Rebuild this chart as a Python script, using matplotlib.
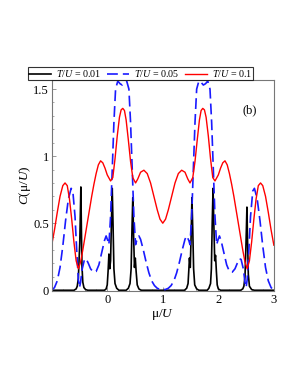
import matplotlib
matplotlib.use("Agg")
import matplotlib.pyplot as plt
from matplotlib.ticker import MultipleLocator, FixedLocator

plt.rcParams['font.family'] = ['Liberation Serif', 'DejaVu Serif']
plt.rcParams['mathtext.fontset'] = 'custom'
plt.rcParams['mathtext.rm'] = 'Liberation Serif'
plt.rcParams['mathtext.it'] = 'Liberation Serif:italic'

# T/U = 0.01 (black)
black_x = [-1.0, -0.6, -0.56, -0.54, -0.52, -0.505, -0.495, -0.485, -0.475, -0.465, -0.455, -0.44, -0.42, -0.39, -0.35,
           -0.05, -0.02, 0.0, 0.015, 0.03, 0.045, 0.06, 0.075, 0.09, 0.105, 0.12, 0.14, 0.17, 0.21,
           0.34, 0.38, 0.41, 0.43, 0.445, 0.46, 0.475, 0.49, 0.505, 0.52, 0.54, 0.57, 0.61,
           1.39, 1.43, 1.455, 1.47, 1.48, 1.495, 1.51, 1.525, 1.54, 1.555, 1.575, 1.61, 1.65,
           1.80, 1.83, 1.86, 1.875, 1.89, 1.905, 1.92, 1.935, 1.95, 1.965, 1.98, 2.0, 2.04,
           2.4, 2.44, 2.46, 2.48, 2.495, 2.505, 2.515, 2.525, 2.54, 2.56, 2.6, 2.65, 3.0]
black_y = [0.0, 0.0, 0.01, 0.03, 0.09, 0.25, 0.35, 0.55, 0.77, 0.45, 0.18, 0.06, 0.02, 0.005, 0.0,
           0.0, 0.01, 0.04, 0.14, 0.27, 0.16, 0.22, 0.50, 0.76, 0.48, 0.16, 0.05, 0.015, 0.0,
           0.0, 0.015, 0.05, 0.16, 0.45, 0.69, 0.40, 0.17, 0.24, 0.14, 0.04, 0.01, 0.0,
           0.0, 0.015, 0.05, 0.16, 0.24, 0.17, 0.40, 0.69, 0.45, 0.16, 0.04, 0.01, 0.0,
           0.0, 0.015, 0.05, 0.16, 0.50, 0.76, 0.48, 0.22, 0.26, 0.14, 0.04, 0.01, 0.0,
           0.0, 0.01, 0.03, 0.10, 0.30, 0.45, 0.62, 0.40, 0.12, 0.03, 0.005, 0.0, 0.0]

# T/U = 0.05 (blue dashed)
blue_x = [-1.0, -0.95, -0.9, -0.85, -0.8, -0.75, -0.7, -0.65, -0.62, -0.58, -0.55, -0.52, -0.50, -0.48, -0.45,
          -0.41, -0.38, -0.34, -0.3, -0.25, -0.2, -0.15, -0.1, -0.05, -0.02, 0.01, 0.03, 0.06, 0.09, 0.12,
          0.15, 0.19, 0.23, 0.27, 0.31, 0.35, 0.39, 0.42, 0.45, 0.48, 0.51, 0.53, 0.57, 0.6, 0.65, 0.7,
          0.75, 0.8, 0.85, 0.9, 0.95, 1.0, 1.05, 1.1, 1.15, 1.2, 1.25, 1.3, 1.35, 1.4, 1.43, 1.47, 1.49,
          1.52, 1.55, 1.58, 1.61, 1.65, 1.69, 1.73, 1.77, 1.81, 1.85, 1.88, 1.91, 1.94, 1.97, 1.99, 2.02,
          2.05, 2.1, 2.15, 2.2, 2.25, 2.3, 2.34, 2.38, 2.41, 2.45, 2.48, 2.50, 2.52, 2.55, 2.58, 2.62,
          2.65, 2.7, 2.75, 2.8, 2.85, 2.9, 2.95, 3.0]
blue_y = [0.0, 0.02, 0.07, 0.17, 0.33, 0.52, 0.68, 0.76, 0.74, 0.55, 0.30, 0.08, 0.02, 0.06, 0.16,
          0.23, 0.235, 0.20, 0.16, 0.135, 0.14, 0.19, 0.28, 0.37, 0.405, 0.37, 0.34, 0.55, 0.90, 1.25,
          1.50, 1.56, 1.54, 1.53, 1.55, 1.56, 1.50, 1.25, 0.90, 0.55, 0.34, 0.37, 0.405, 0.38, 0.30, 0.21,
          0.13, 0.07, 0.035, 0.015, 0.006, 0.004, 0.006, 0.015, 0.035, 0.07, 0.13, 0.21, 0.30, 0.38, 0.405,
          0.37, 0.34, 0.55, 0.90, 1.25, 1.50, 1.56, 1.55, 1.53, 1.54, 1.56, 1.50, 1.25, 0.90, 0.55, 0.34,
          0.37, 0.405, 0.37, 0.28, 0.19, 0.14, 0.135, 0.16, 0.20, 0.235, 0.23, 0.16, 0.06, 0.02, 0.08, 0.30,
          0.55, 0.74, 0.76, 0.68, 0.52, 0.33, 0.17, 0.07, 0.02, 0.0]

# T/U = 0.1 (red)
red_x = [-1.0, -0.95, -0.9, -0.85, -0.8, -0.76, -0.72, -0.68, -0.64, -0.6, -0.56, -0.52, -0.48, -0.44, -0.4,
         -0.36, -0.32, -0.28, -0.24, -0.2, -0.16, -0.12, -0.08, -0.04, 0.0, 0.06, 0.1, 0.14, 0.18, 0.22,
         0.25, 0.28, 0.31, 0.34, 0.38, 0.42, 0.46, 0.51, 0.55, 0.6, 0.66, 0.72, 0.78, 0.84, 0.9, 0.95,
         1.0, 1.05, 1.1, 1.16, 1.22, 1.28, 1.34, 1.4, 1.45, 1.49, 1.54, 1.58, 1.62, 1.66, 1.69, 1.72,
         1.75, 1.78, 1.82, 1.86, 1.9, 1.94, 2.0, 2.04, 2.08, 2.12, 2.16, 2.2, 2.24, 2.28, 2.32, 2.36,
         2.4, 2.44, 2.48, 2.52, 2.56, 2.6, 2.64, 2.68, 2.72, 2.76, 2.8, 2.85, 2.9, 2.95, 3.0]
red_y = [0.336, 0.45, 0.58, 0.70, 0.78, 0.80, 0.78, 0.68, 0.53, 0.36, 0.22, 0.16, 0.21, 0.30, 0.40,
         0.50, 0.60, 0.70, 0.79, 0.87, 0.935, 0.965, 0.95, 0.91, 0.86, 0.815, 0.84, 0.98, 1.15, 1.29,
         1.345, 1.356, 1.34, 1.27, 1.12, 0.96, 0.84, 0.80, 0.83, 0.88, 0.895, 0.87, 0.80, 0.70, 0.60, 0.53,
         0.50, 0.53, 0.60, 0.70, 0.80, 0.87, 0.895, 0.88, 0.83, 0.80, 0.84, 0.96, 1.12, 1.27, 1.34,
         1.356, 1.345, 1.29, 1.15, 0.98, 0.84, 0.815, 0.86, 0.91, 0.95, 0.965, 0.935, 0.87, 0.79,
         0.70, 0.60, 0.50, 0.40, 0.30, 0.21, 0.16, 0.22, 0.36, 0.53, 0.68, 0.78, 0.80, 0.78, 0.70, 0.58,
         0.45, 0.336]

labels = ['$T/U$ = 0.01', '$T/U$ = 0.05', '$T/U$ = 0.1']
x_ticks = [0, 1, 2, 3]
x_tick_labels = ['0', '1', '2', '3']
y_ticks = [0, 0.5, 1, 1.5]
y_tick_labels = ['0', '0.5', '1', '1.5']

fig = plt.figure(figsize=(2.98, 3.85), dpi=100)
ax = fig.add_axes([0.1735, 0.244, 0.7455, 0.548])

l1, = ax.plot(black_x, black_y, color='black', lw=1.2)
l2, = ax.plot(blue_x, blue_y, color='#1a1aff', lw=1.2, dashes=(6.5, 3))
l3, = ax.plot(red_x, red_y, color='#ff0000', lw=1.0)

ax.set_xlim(-1, 3)
ax.set_ylim(-0.006, 1.567)
ax.xaxis.set_major_locator(FixedLocator(x_ticks))
ax.set_xticklabels(x_tick_labels)
ax.yaxis.set_major_locator(FixedLocator(y_ticks))
ax.set_yticklabels(y_tick_labels)
ax.xaxis.set_minor_locator(MultipleLocator(0.2))
ax.yaxis.set_minor_locator(MultipleLocator(0.1))
ax.tick_params(which='both', direction='in', colors='#888888', labelcolor='black', labelsize=9, pad=2)
ax.tick_params(which='major', length=3, width=0.6)
ax.tick_params(which='minor', length=1.5, width=0.5)
for s in ax.spines.values():
    s.set_color('#777777')
    s.set_linewidth(0.8)

ax.set_xlabel('μ/$U$', fontsize=9.5, labelpad=1)
ax.set_ylabel('$C$(μ/$U$)', fontsize=9.5, labelpad=0)
ax.text(2.57, 1.34, '(b)', fontsize=9, ha='center', va='center')

leg = fig.legend([l1, l2, l3], labels, loc='center', bbox_to_anchor=(0.472, 0.809), ncol=3,
                 fontsize=7.2, frameon=True, fancybox=False, handlelength=2.2, handletextpad=0.5,
                 columnspacing=0.6, borderpad=0.1, borderaxespad=0)
leg.get_frame().set_edgecolor('black')
leg.get_frame().set_linewidth(0.8)

fig.savefig('out.png', dpi=100)
